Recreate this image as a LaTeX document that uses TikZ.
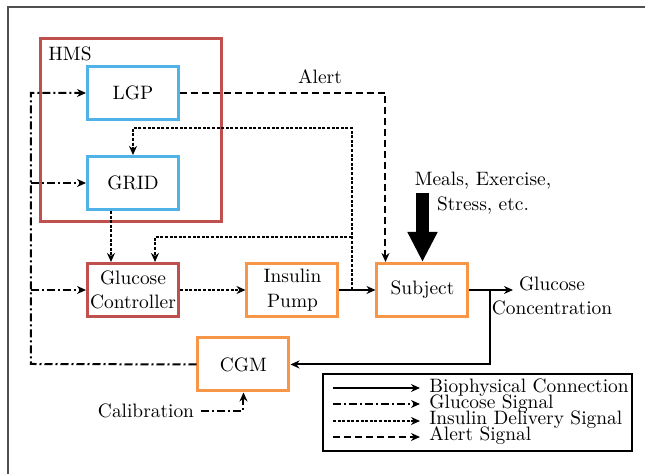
\documentclass[tikz,border=0pt]{standalone}
\usetikzlibrary{arrows.meta}
\definecolor{hmsred}{HTML}{C0504D}
\definecolor{lgpblue}{HTML}{4FB3E8}
\definecolor{devorange}{HTML}{F79646}
\definecolor{framegray}{HTML}{505050}

\begin{document}
\begin{tikzpicture}[x=0.5pt, y=-0.5pt,
	font=\fontsize{9.7pt}{12.2pt}\selectfont,
	block/.style={rectangle, draw, line width=1.5pt, minimum width=45.5pt, minimum height=26.5pt, inner sep=0pt, align=center},
	sig/.style={-{Stealth[length=4.5pt,width=4pt]}, line width=1pt},
	bio/.style={sig},
	glu/.style={sig, dash pattern=on 4pt off 1.5pt on 1pt off 1.5pt},
	ins/.style={sig, dash pattern=on 1.5pt off 0.8pt},
	alertsig/.style={sig, dash pattern=on 3.5pt off 2pt},
	key/.style={anchor=base west, inner sep=0pt, text height=6pt, text depth=1.5pt}]

	\useasboundingbox (0,0) rectangle (645,474);
	\draw[framegray, line width=1pt] (8,474) -- (8,7) -- (645,7);

	% blocks
	\node[block, draw=hmsred, minimum width=90.5pt, minimum height=91.5pt] (hms) at (131.5,130) {};
	\node (hmslabel) at (70,54) {HMS};
	\node[block, draw=lgpblue] (lgp) at (133,93) {LGP};
	\node[block, draw=lgpblue] (grid) at (133,183) {GRID};
	\node[block, draw=hmsred] (ctrl) at (133,290) {Glucose\\Controller};
	\node[block, draw=devorange] (pump) at (292.5,290) {Insulin\\Pump};
	\node[block, draw=devorange] (subj) at (422.5,290) {Subject};
	\node[block, draw=devorange] (cgm) at (243.5,364.5) {CGM};

	% labels
	\node (alertlabel) at (320,77) {Alert};
	\node[align=center] (meals) at (483,193) {Meals, Exercise,\\Stress, etc.};
	\node[align=center] (gconc) at (552,296) {Glucose\\Concentration};
	\node (calib) at (146,411) {Calibration};

	\coordinate (gbus) at (31,364);
	\coordinate (gtop) at (31,93);
	\coordinate (tap) at (352,290);
	\coordinate (ftop) at (352,128);
	\coordinate (fmid) at (352,237);
	\coordinate (fb) at (490,290);
	\coordinate (gout) at (513,290);
	\coordinate (meal) at (422.5,193);

	% glucose signal
	\draw[glu] (cgm.west) -- (gbus) -- (gtop) -- (lgp.west);
	\draw[glu] (gbus |- grid.west) -- (grid.west);
	\draw[glu] (gbus |- ctrl.west) -- (ctrl.west);
	\draw[glu] (calib.east) -| (cgm.south);

	% insulin delivery signal
	\draw[ins] ([xshift=-11pt]grid.south) -- ([xshift=-11pt]ctrl.north);
	\draw[ins] (ctrl) -- (pump);
	\draw[ins] (tap) -- (ftop) -| (grid.north);
	\draw[ins] (fmid) -| ([xshift=11pt]ctrl.north);

	% alert
	\draw[alertsig] (lgp.east) -| ([xshift=-18.5pt]subj.north);

	% biophysical
	\draw[bio] (pump) -- (subj);
	\draw[line width=6.5pt, -{Triangle[length=15pt,width=14pt]}] (meal) -- (subj.north);
	\draw[bio] (subj) -- (gout);
	\draw[bio] (fb) |- (cgm.east);

	% legend
	\node[draw, line width=0.8pt, minimum width=154.5pt, minimum height=38.5pt] (legend) at (477.5,412.5) {};
	\node[key] (kbio) at (429,393) {Biophysical Connection};
	\node[key] (kglu) at (429,409) {Glucose Signal};
	\node[key] (kins) at (429,425) {Insulin Delivery Signal};
	\node[key] (kalert) at (429,441) {Alert Signal};
	\coordinate (k1) at (333,388);
	\coordinate (k2) at (333,404);
	\coordinate (k3) at (333,421);
	\coordinate (k4) at (333,437);
	\draw[bio] (k1) -- ([xshift=-4.5pt]k1 -| kbio.west);
	\draw[glu] (k2) -- ([xshift=-4.5pt]k2 -| kglu.west);
	\draw[ins] (k3) -- ([xshift=-4.5pt]k3 -| kins.west);
	\draw[alertsig] (k4) -- ([xshift=-4.5pt]k4 -| kalert.west);
\end{tikzpicture}
\end{document}
